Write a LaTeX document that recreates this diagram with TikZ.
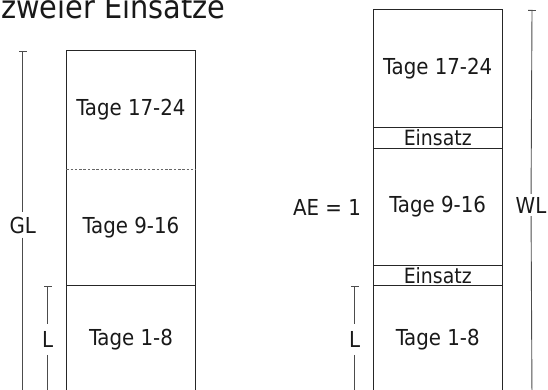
\documentclass[tikz,border=0pt]{standalone}
\usepackage{fontspec}
\setmainfont{DejaVu Sans Condensed}
\usetikzlibrary{arrows, positioning}

\begin{document}
\begin{tikzpicture}
[x = 1pt, y = -1pt, font = \fontsize{22}{26}\selectfont, text = black!90,
 part/.style = {minimum width = 129.5pt, inner sep = 0pt, outer sep = 0pt},
 frame/.style = {draw = black!85, line width = 1pt},
 span/.style = {draw = black!70, line width = 0.9pt},
 label/.style = {inner sep = 4pt}]
\clip (0, 0) rectangle (548, 390);

% title, cut at the top edge
\node [anchor = base west, inner sep = 0pt, font = \fontsize{32}{38}\selectfont]
 (title) at (1, 19) {zweier Einsätze};

% left column
\node [part, minimum height = 118pt] (left 3) at (131, 110) {Tage 17-24};
\node [part, minimum height = 116.7pt, below = 0pt of left 3] (left 2) {Tage 9-16};
\node [part, minimum height = 107pt, below = 0pt of left 2] (left 1) {Tage 1-8};
\draw [frame] (left 3.north west) rectangle (left 1.south east);
\draw [draw = black!60, line width = 0.8pt, dash pattern = on 2.5pt off 1.8pt]
 (left 3.south west) -- (left 3.south east);
\draw [frame] (left 2.south west) -- (left 2.south east);

% right column
\node [part, minimum height = 117.3pt] (right 3) at (437.75, 68.65) {Tage 17-24};
\node [part, minimum height = 21pt, font = \fontsize{21}{25}\selectfont,
 below = 0pt of right 3] (insert 2) {Einsatz};
\node [part, minimum height = 117.4pt, below = 0pt of insert 2] (right 2) {Tage 9-16};
\node [part, minimum height = 20pt, font = \fontsize{21}{25}\selectfont,
 below = 0pt of right 2] (insert 1) {Einsatz};
\node [part, minimum height = 107pt, below = 0pt of insert 1] (right 1) {Tage 1-8};
\draw [frame] (right 3.north west) rectangle (right 1.south east);
\foreach \n in {right 3, insert 2, right 2, insert 1}{
	\draw [frame] (\n.south west) -- (\n.south east);
}

% lengths
\coordinate (gl top) at (22.7, 51.3);
\coordinate (gl end) at (22.7, 400);
\node [label] (gl) at (22.7, 225) {GL};
\draw [span, |-] (gl top) -- (gl);
\draw [span] (gl) -- (gl end);

\coordinate (l top) at (47.7, 285.7);
\coordinate (l end) at (47.7, 400);
\node [label, inner ysep = 7pt] (l) at (47.7, 339.7) {L};
\draw [span, |-] (l top) -- (l);
\draw [span] (l) -- (l end);

\coordinate (l2 top) at (354.7, 285.7);
\coordinate (l2 end) at (354.7, 400);
\node [label, inner ysep = 7pt] (l2) at (354.7, 339.7) {L};
\draw [span, |-] (l2 top) -- (l2);
\draw [span] (l2) -- (l2 end);

\coordinate (wl top) at (532, 10);
\coordinate (wl end) at (532, 400);
\node [label, inner ysep = 3pt] (wl) at (531, 205) {WL};
\draw [span, |-] (wl top) -- (wl);
\draw [span] (wl) -- (wl end);

\node (ae) at (327, 207) {AE = 1};
\end{tikzpicture}
\end{document}
